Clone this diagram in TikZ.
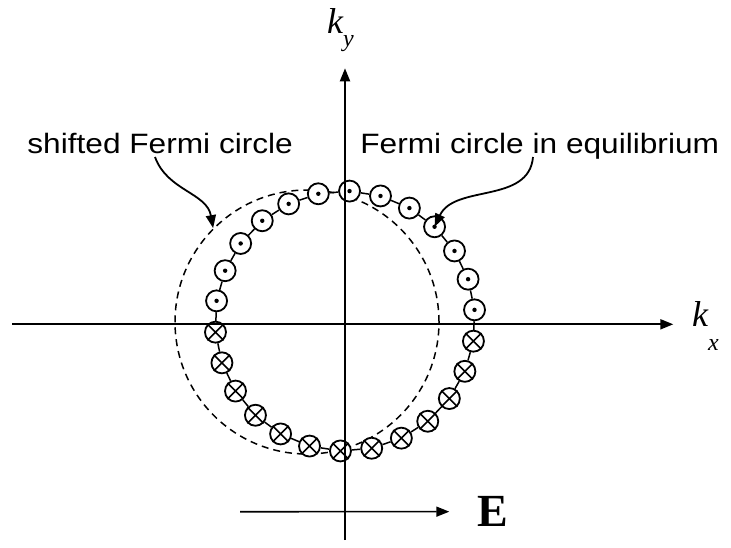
\documentclass[tikz,border=0pt]{standalone}
\usepackage{fontspec}
\setmainfont{Liberation Sans}[FakeStretch=1.13]
\newfontfamily\timesfont{Liberation Serif}
\usetikzlibrary{arrows.meta}

\begin{document}
\begin{tikzpicture}[x=0.5pt,y=-0.5pt,
  note/.style={anchor=base west,inner sep=0pt,font=\fontsize{14}{16}\selectfont},
  axislabel/.style={anchor=base west,inner sep=0pt,font=\timesfont},
  arrow/.style={-{Triangle[length=6.5pt,width=5pt]},line width=1pt},
  pointer/.style={-{Triangle[length=6.5pt,width=5pt]},line width=0.9pt},
  electron/.style={circle,draw,fill=white,line width=0.9pt,minimum size=10.5pt,inner sep=0pt}
]
\useasboundingbox (0,0) rectangle (731,547);
\node[circle,draw,dashed,dash pattern=on 3.5pt off 2.5pt,line width=0.75pt,minimum size=132pt,inner sep=0pt] (shifted) at (307,322) {};
\foreach \i in {0,...,25}
  \node[electron] (c\i) at ({345+130*cos(88-\i*360/26)},{321-130*sin(88-\i*360/26)}) {};
\foreach \i [evaluate=\i as \j using {int(mod(\i+1,26))}] in {0,...,25}
  \draw[line width=0.75pt] (c\i) -- (c\j);
% axes
\coordinate (xl) at (12,324.3);
\coordinate (xr) at (673.3,324.3);
\coordinate (yb) at (345,540);
\coordinate (yt) at (345,68.3);
\draw[arrow] (xl) -- (xr);
\draw[arrow] (yb) -- (yt);
\foreach \i in {0,...,6,20,21,22,23,24,25}
  \fill (c\i) circle (1.1pt);
\foreach \i in {7,...,19}
  \draw[line width=0.8pt] (c\i.45) -- (c\i.225) (c\i.135) -- (c\i.315);
\node[axislabel] (kx) at (691.7,326.7) {\fontsize{18}{20}\selectfont\itshape k\raisebox{-12pt}{\fontsize{12}{14}\selectfont x}};
\node[axislabel] (ky) at (326.7,33.3) {\fontsize{18}{20}\selectfont\itshape k\raisebox{-6.7pt}{\fontsize{12}{14}\selectfont y}};
% field
\node[axislabel] (E) at (476.7,526.7) {\fontsize{23}{26}\selectfont\bfseries E};
\coordinate (efield) at (240,511.7);
\draw[arrow,line width=0.8pt] (efield) -- ([xshift=-13.7pt]E.west);
% labels
\node[note] (shlabel) at (27,153.3) {shifted Fermi circle};
\node[note] (eqlabel) at (360,153.3) {Fermi circle in equilibrium};
\coordinate (s1) at (155,157);
\coordinate (s2) at (533,157);
\draw[pointer] (s1) to[out=-70,in=100] (shifted.135);
\draw[pointer] (s2) to[out=-95,in=65] (c3.center);
\end{tikzpicture}
\end{document}
